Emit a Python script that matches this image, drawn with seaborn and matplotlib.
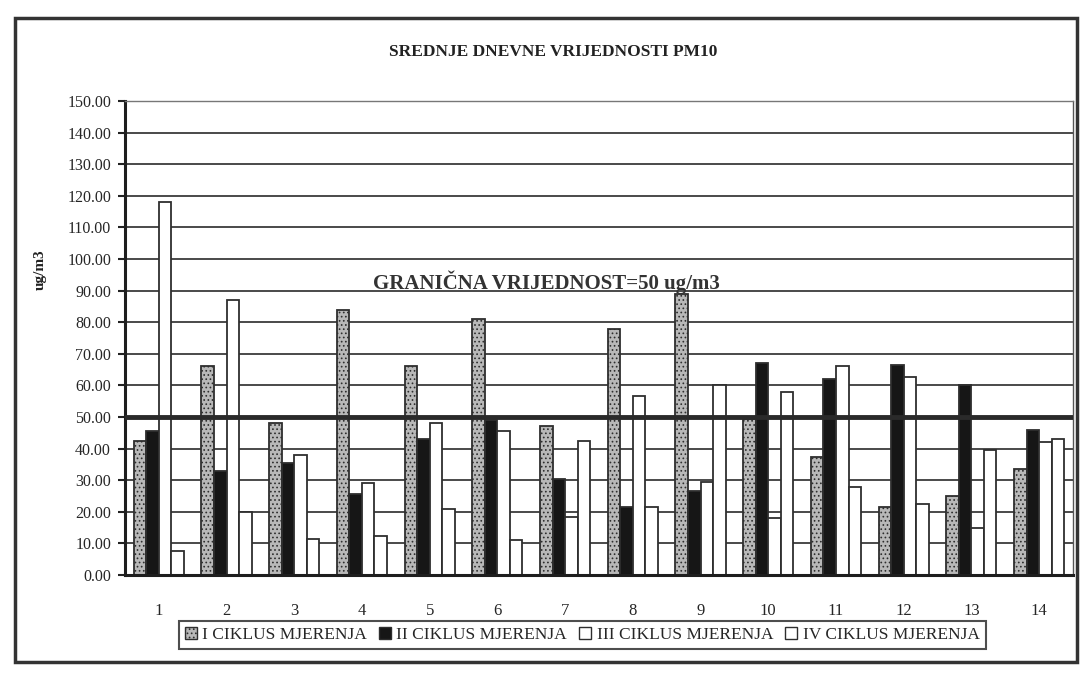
import matplotlib
matplotlib.use("Agg")
import matplotlib.pyplot as plt
from matplotlib.patches import Patch, Rectangle
import seaborn as sns
import pandas as pd

# values (ug/m3)
days = [str(i) for i in range(1, 15)]
ciklus_1 = [42.5, 66, 48, 84, 66, 81, 47, 78, 89, 49.5, 37.5, 21.5, 25, 33.5]
ciklus_2 = [45.5, 33, 35.5, 25.5, 43, 49, 30.5, 21.5, 26.5, 67, 62, 66.5, 60, 46]
ciklus_3 = [118, 87, 38, 29, 48, 45.5, 18.5, 56.5, 29.5, 18, 66, 62.5, 15, 42]
ciklus_4 = [7.5, 20, 11.5, 12.5, 21, 11, 42.5, 21.5, 60, 58, 28, 22.5, 39.5, 43]
series = ['I CIKLUS MJERENJA', 'II CIKLUS MJERENJA',
          'III CIKLUS MJERENJA', 'IV CIKLUS MJERENJA']
limit = 50
yticks = list(range(0, 151, 10))

title = 'SREDNJE DNEVNE VRIJEDNOSTI PM10'
limit_label = 'GRANIČNA VRIJEDNOST=50 ug/m3'
y_label = 'ug/m3'


def _process_data():
    rows = []
    for name, vals in zip(series, [ciklus_1, ciklus_2, ciklus_3, ciklus_4]):
        for d, v in zip(days, vals):
            rows.append([d, name, v])
    return pd.DataFrame(rows, columns=['dan', 'ciklus', 'vrijednost'])


def _plot(df, save_path):
    sns.set_style('white')
    plt.rcParams['font.family'] = ['Liberation Serif', 'DejaVu Serif']
    plt.rcParams['hatch.linewidth'] = 0.7

    colors = ['#b8b8b8', '#161616', '#ffffff', '#ffffff']
    edge = '#2e2e2e'

    fig = plt.figure(figsize=(10.8, 6.8), dpi=100)
    ax = fig.add_axes([0.1157, 0.1544, 0.8778, 0.6971])

    sns.barplot(data=df, x='dan', y='vrijednost', hue='ciklus', hue_order=series,
                order=days, palette=colors, width=0.74, edgecolor=edge,
                linewidth=1.3, legend=False, ax=ax, zorder=2)
    for bar in ax.containers[0]:
        bar.set_hatch('....')

    ax.set_ylim(0, 150)
    ax.set_xlim(-0.5, len(days) - 0.5)
    ax.set_yticks(yticks)
    ax.set_yticklabels(['%.2f' % t for t in yticks], fontsize=11.5)
    ax.set_axisbelow(True)
    ax.yaxis.grid(True, color='#3c3c3c', lw=1.3)
    ax.axhline(limit, color='#2a2a2a', lw=3.5, zorder=3)

    # excel style ticks between categories
    ax.set_xticks([i - 0.5 for i in range(len(days) + 1)], minor=True)
    ax.tick_params(axis='x', which='major', length=0, pad=20, labelsize=12)
    ax.tick_params(axis='x', which='minor', length=5, width=1.5, direction='out',
                   color='#222')
    ax.tick_params(axis='y', length=5, width=1.5, direction='out', color='#222',
                   pad=5, left=True)
    ax.set_xlabel('')
    ax.set_ylabel('')

    for side in ['left', 'bottom']:
        ax.spines[side].set_linewidth(2.2)
        ax.spines[side].set_color('#1e1e1e')
    ax.spines['right'].set_linewidth(1.0)
    ax.spines['right'].set_color('#555555')
    ax.spines['top'].set_linewidth(1.0)
    ax.spines['top'].set_color('#777777')

    ax.text(5.72, 92.5, limit_label, ha='center', va='center', fontsize=15,
            fontweight='bold', color='#333333', zorder=4)

    fig.text(0.512, 1 - 52 / 680, title, ha='center', va='center', fontsize=12.5,
             fontweight='bold', color='#222222')
    fig.text(0.037, 1 - 270 / 680, y_label, rotation=90, ha='center', va='center',
             fontsize=11, fontweight='bold', color='#222222')

    handles = [Patch(facecolor=c, edgecolor=edge, hatch='....' if i == 0 else None)
               for i, c in enumerate(colors)]
    leg = fig.legend(handles, series, ncol=4, loc='center',
                     bbox_to_anchor=(0.539, 1 - 635 / 680), frameon=True,
                     fancybox=False, edgecolor='#222222', fontsize=12.5,
                     handlelength=0.7, handleheight=0.7, handletextpad=0.3,
                     columnspacing=0.7, borderpad=0.35)
    leg.get_frame().set_linewidth(1.5)

    fig.patches.append(Rectangle((15 / 1080, 1 - 662 / 680), 1062 / 1080, 644 / 680,
                                 transform=fig.transFigure, fill=False,
                                 edgecolor='#333333', lw=2.5))

    fig.savefig(save_path, dpi=100)


df = _process_data()
_plot(df, 'out.png')
